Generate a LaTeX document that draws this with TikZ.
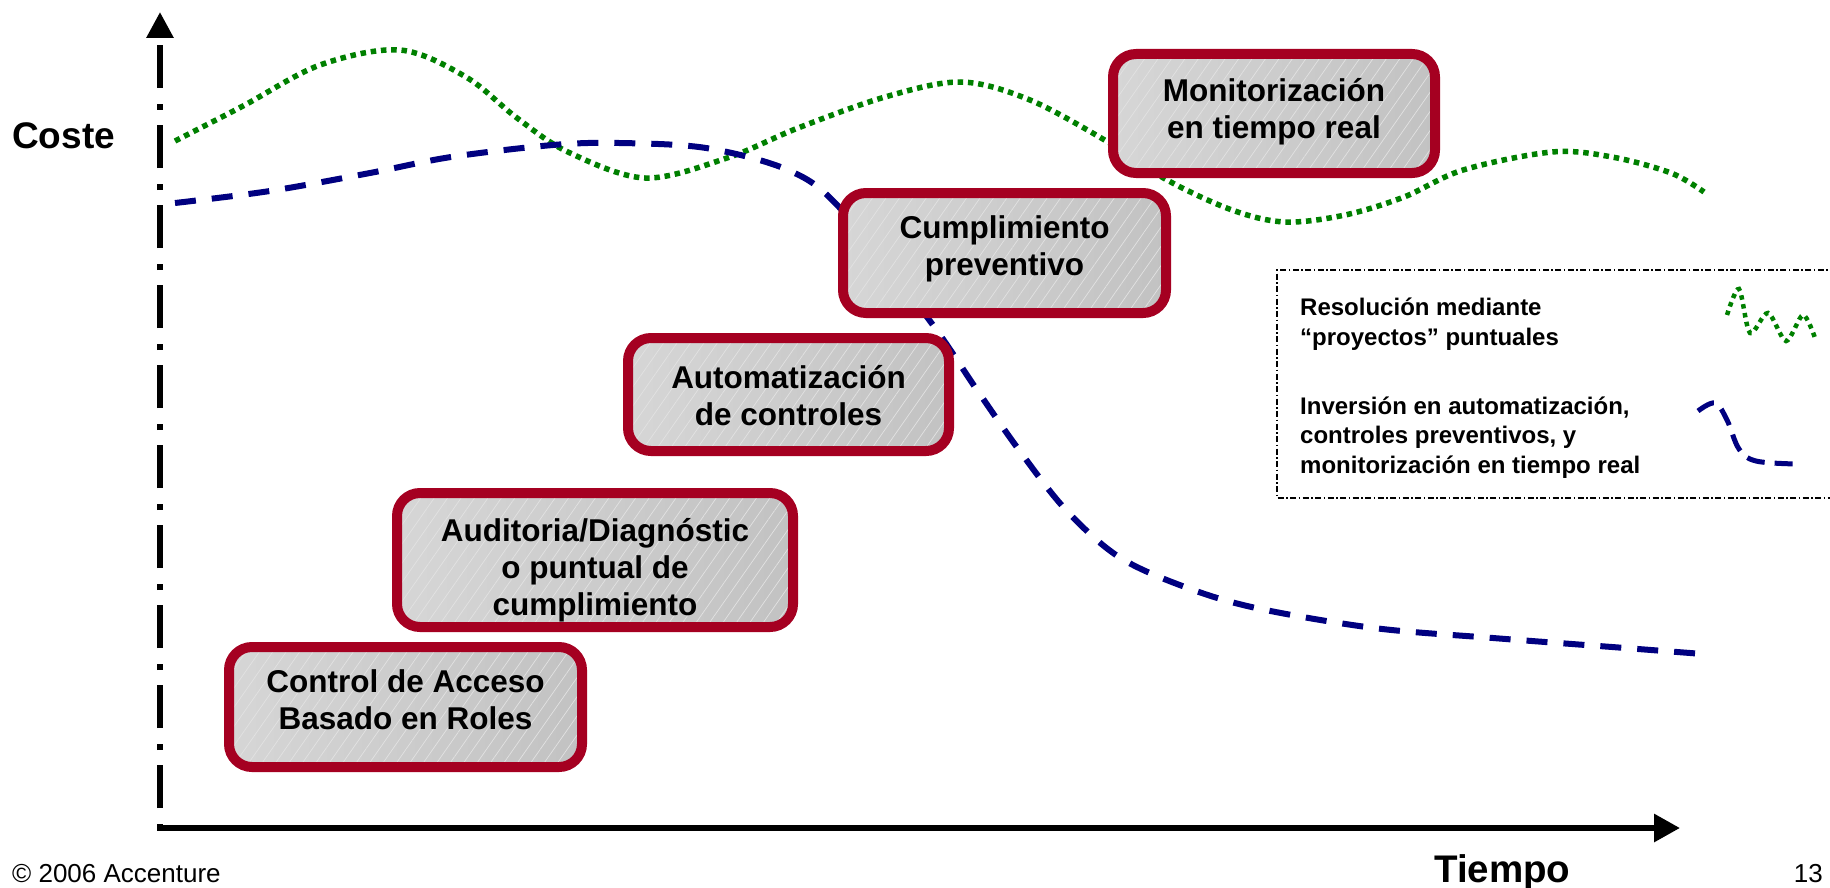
\documentclass[tikz,border=0pt]{standalone}
\usepackage{fontspec}
\setmainfont{Liberation Sans}
\usetikzlibrary{arrows.meta,patterns.meta}
\definecolor{boxred}{RGB}{165,0,33}
\definecolor{boxlight}{RGB}{214,214,214}
\definecolor{boxdark}{RGB}{194,194,194}
\definecolor{hatchc}{RGB}{226,226,226}
\definecolor{curvegreen}{RGB}{0,128,0}
\definecolor{curveblue}{RGB}{0,0,128}
\begin{document}
\begin{tikzpicture}[x=1pt,y=-1pt,
  stepbox/.style={draw=boxred, line width=10pt, rounded corners=23pt, inner sep=0pt, outer sep=0pt,
    preaction={left color=boxlight, right color=boxdark},
    pattern={Lines[angle=55,distance=11pt,line width=0.7pt]}, pattern color=hatchc},
  boxtext/.style={font=\bfseries\fontsize{31.5}{37}\selectfont, align=center, inner sep=0pt},
  legtext/.style={font=\bfseries\fontsize{24}{29.5}\selectfont, align=left, inner sep=0pt},
  axislabel/.style={font=\bfseries\fontsize{37}{40}\selectfont, inner sep=0pt},
  foottext/.style={font=\fontsize{26}{30}\selectfont, inner sep=0pt},
  greencurve/.style={draw=curvegreen, line width=5.5pt, dash pattern=on 5.5pt off 4.8pt},
  bluecurve/.style={draw=curveblue, line width=6pt, dash pattern=on 21pt off 16pt},
  legendframe/.style={draw=black, line width=1.4pt, dash pattern=on 6pt off 2.5pt on 1.5pt off 2.5pt},
]
\useasboundingbox (0,0) rectangle (1830,888);

% legend frame
\draw[legendframe] (1836,270) -- (1277,270) -- (1277,498) -- (1836,498);

% curves
\draw[greencurve] plot[smooth, tension=0.55] coordinates {
 (175,141) (243,106) (320,65) (400,50) (466,77) (517,118) (568,152) (645,178)
 (727,158) (798,128) (885,97) (961,82) (1030,100) (1108,142) (1167,180) (1232,210)
 (1285,222) (1345,215) (1404,197) (1463,170) (1552,152) (1612,157) (1671,173) (1704,192)};
\draw[bluecurve] plot[smooth, tension=0.55] coordinates {
 (175,203) (270,191) (370,173) (451,157) (553,145) (619,143) (706,148) (788,170)
 (839,207) (927,317) (977,390) (1019,450) (1066,510) (1119,557) (1185,587)
 (1256,608) (1374,628) (1493,638) (1612,647) (1703,654)};

% legend samples
\draw[greencurve, line width=4.5pt, dash pattern=on 4.5pt off 4.5pt] plot[smooth, tension=0.5] coordinates {
 (1727,315) (1739,289) (1750,333) (1768,313) (1786,341) (1803,315) (1815,338)};
\draw[bluecurve, line width=5pt, dash pattern=on 18pt off 10pt] plot[smooth, tension=0.6] coordinates {
 (1698,411) (1715,403) (1727,420) (1739,449) (1756,461) (1797,464)};

% legend texts (base anchor = last line)
\node[legtext, anchor=base west] (leg1) at (1300,345) {Resolución mediante\\“proyectos” puntuales};
\node[legtext, anchor=base west] (leg2) at (1300,473) {Inversión en automatización,\\controles preventivos, y\\monitorización en tiempo real};

% boxes
\node[stepbox, minimum width=353pt, minimum height=120pt] (b1) at (405.5,707) {};
\node[boxtext, yshift=6.8pt] (t1) at (b1.center) {Control de Acceso\\Basado en Roles};
\node[stepbox, minimum width=396pt, minimum height=134pt] (b2) at (595,560) {};
\node[boxtext, yshift=-10pt] (t2) at (b2.center) {Auditoria/Diagnóstic\\o puntual de\\cumplimiento};
\node[stepbox, minimum width=321pt, minimum height=113pt] (b3) at (788.5,394.5) {};
\node[boxtext, yshift=-1pt] (t3) at (b3.center) {Automatización\\de controles};
\node[stepbox, minimum width=323pt, minimum height=120pt] (b4) at (1004.5,253) {};
\node[boxtext, yshift=4.5pt] (t4) at (b4.center) {Cumplimiento\\preventivo};
\node[stepbox, minimum width=322pt, minimum height=119pt] (b5) at (1274,113.5) {};
\node[boxtext, yshift=2pt] (t5) at (b5.center) {Monitorización\\en tiempo real};

% axes
\coordinate (yorig) at (160,830);
\coordinate (ytip) at (160,12);
\coordinate (xorig) at (157,828);
\coordinate (xtip) at (1680,828);
\draw[line width=6pt, dash pattern=on 6pt off 16pt on 43pt off 15pt,
  -{Triangle[length=26pt,width=26pt]}] (yorig) -- (ytip);
\draw[line width=6pt, -{Triangle[length=26pt,width=27pt]}] (xorig) -- (xtip);

% labels
\node[axislabel, anchor=base west] (coste) at (12,148) {Coste};
\node[axislabel, font=\bfseries\fontsize{38.5}{42}\selectfont, anchor=base west] (tiempo) at (1434,882) {Tiempo};
\node[foottext, anchor=base west] (copy) at (12,882) {© 2006 Accenture};
\node[foottext, anchor=base east] (page) at (1823,882) {13};
\end{tikzpicture}
\end{document}
